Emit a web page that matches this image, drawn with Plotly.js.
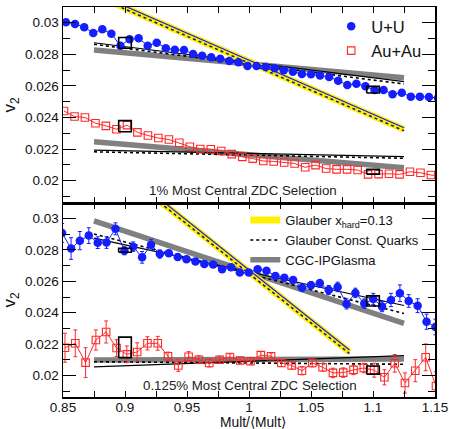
<!DOCTYPE html>
<html><head><meta charset="utf-8">
<script src="https://cdn.plot.ly/plotly-3.0.1.min.js"></script>
<style>html,body{margin:0;padding:0;background:#fff}#chart{width:449px;height:429px}</style>
</head><body><div id="chart"></div>
<script>
// ---------- data: 1% most central ZDC selection (top panel) ----------
const uuTopX = [0.8524, 0.8597, 0.8671, 0.8744, 0.8817, 0.8890, 0.8963, 0.9037, 0.9110, 0.9183, 0.9256, 0.9329, 0.9402, 0.9476, 0.9549, 0.9622, 0.9695, 0.9768, 0.9841, 0.9915, 0.9988, 1.0061, 1.0134, 1.0207, 1.0280, 1.0354, 1.0427, 1.0500, 1.0573, 1.0646, 1.0719, 1.0793, 1.0866, 1.0939, 1.1012, 1.1085, 1.1158, 1.1232, 1.1305, 1.1378, 1.1451, 1.1524];
const uuTopV2 = [0.03003, 0.02992, 0.02971, 0.02935, 0.02958, 0.02930, 0.02854, 0.02895, 0.02901, 0.02854, 0.02873, 0.02838, 0.02829, 0.02827, 0.02802, 0.02791, 0.02781, 0.02772, 0.02758, 0.02749, 0.02726, 0.02726, 0.02720, 0.02711, 0.02699, 0.02690, 0.02675, 0.02673, 0.02665, 0.02656, 0.02633, 0.02606, 0.02614, 0.02597, 0.02574, 0.02574, 0.02547, 0.02557, 0.02532, 0.02532, 0.02530, 0.02523];
const auTopX = [0.8508, 0.8593, 0.8677, 0.8762, 0.8846, 0.8931, 0.9016, 0.9100, 0.9185, 0.9269, 0.9354, 0.9438, 0.9523, 0.9607, 0.9692, 0.9776, 0.9861, 0.9946, 1.0030, 1.0115, 1.0199, 1.0284, 1.0368, 1.0453, 1.0537, 1.0622, 1.0706, 1.0791, 1.0876, 1.0960, 1.1045, 1.1129, 1.1214, 1.1298, 1.1383, 1.1467, 1.1552];
const auTopV2 = [0.02441, 0.02406, 0.02400, 0.02364, 0.02347, 0.02326, 0.02352, 0.02306, 0.02286, 0.02270, 0.02261, 0.02240, 0.02215, 0.02201, 0.02199, 0.02188, 0.02168, 0.02151, 0.02140, 0.02125, 0.02122, 0.02115, 0.02109, 0.02085, 0.02099, 0.02077, 0.02072, 0.02072, 0.02068, 0.02040, 0.02042, 0.02044, 0.02040, 0.02057, 0.02050, 0.02036, 0.02030];

// ---------- data: 0.125% most central ZDC selection (bottom panel) ----------
const uuBotX = [0.8493, 0.8565, 0.8636, 0.8708, 0.8780, 0.8851, 0.8923, 0.8995, 0.9066, 0.9138, 0.9210, 0.9281, 0.9353, 0.9425, 0.9496, 0.9568, 0.9640, 0.9711, 0.9783, 0.9855, 0.9926, 0.9998, 1.0070, 1.0141, 1.0213, 1.0285, 1.0356, 1.0428, 1.0500, 1.0571, 1.0643, 1.0715, 1.0787, 1.0858, 1.0930, 1.1002, 1.1073, 1.1145, 1.1217, 1.1288, 1.1360, 1.1432, 1.1503];
const uuBotV2 = [0.02907, 0.02808, 0.02858, 0.02890, 0.02845, 0.02846, 0.02933, 0.02794, 0.02820, 0.02752, 0.02832, 0.02773, 0.02778, 0.02754, 0.02740, 0.02726, 0.02710, 0.02707, 0.02676, 0.02689, 0.02655, 0.02655, 0.02676, 0.02667, 0.02634, 0.02623, 0.02608, 0.02559, 0.02575, 0.02587, 0.02545, 0.02564, 0.02456, 0.02526, 0.02458, 0.02488, 0.02439, 0.02481, 0.02524, 0.02475, 0.02445, 0.02343, 0.02310];
const uuBotErr = [0.0006, 0.00069, 0.00058, 0.0005, 0.00037, 0.00037, 0.00038, 0.00026, 0.0003, 0.00037, 0.00034, 0.00026, 0.0002, 0.0002, 0.00018, 0.00016, 0.00016, 0.00015, 0.00015, 0.00015, 0.00015, 0.00015, 0.00015, 0.00016, 0.00017, 0.00018, 0.0002, 0.00022, 0.00024, 0.00025, 0.00028, 0.0003, 0.00032, 0.0003, 0.0003, 0.00035, 0.00032, 0.00042, 0.00053, 0.0004, 0.00044, 0.00048, 0.0005];
const auBotX = [0.8516, 0.8599, 0.8682, 0.8765, 0.8848, 0.8932, 0.9015, 0.9098, 0.9181, 0.9264, 0.9347, 0.9430, 0.9513, 0.9596, 0.9679, 0.9763, 0.9846, 0.9929, 1.0012, 1.0095, 1.0178, 1.0261, 1.0344, 1.0427, 1.0510, 1.0594, 1.0677, 1.0760, 1.0843, 1.0926, 1.1009, 1.1092, 1.1175, 1.1258, 1.1341, 1.1425, 1.1508];
const auBotV2 = [0.02178, 0.02206, 0.02083, 0.02227, 0.02278, 0.02176, 0.02136, 0.02151, 0.02206, 0.02206, 0.02124, 0.02065, 0.02121, 0.02102, 0.02081, 0.02102, 0.02119, 0.02097, 0.02092, 0.02131, 0.02124, 0.02081, 0.02065, 0.02032, 0.02081, 0.02054, 0.02018, 0.02020, 0.02037, 0.02049, 0.02035, 0.01990, 0.02079, 0.01954, 0.02032, 0.02117, 0.01935];
const auBotErr = [0.00092, 0.00085, 0.00095, 0.00064, 0.0007, 0.00053, 0.00053, 0.00058, 0.00042, 0.00044, 0.00026, 0.00037, 0.00032, 0.00025, 0.00025, 0.00022, 0.0002, 0.0002, 0.0002, 0.00022, 0.0002, 0.00022, 0.00022, 0.00026, 0.00025, 0.00025, 0.0003, 0.0003, 0.0003, 0.0003, 0.00044, 0.00048, 0.00056, 0.00064, 0.0007, 0.00085, 0.0009];

// ---------- systematic boxes (center, half-height) ----------
const boxX = [0.9, 1.1];
const boxHalfW = 0.0051;
const uuTopBoxY = [0.02872, 0.02576], uuTopBoxH = [0.00034, 0.00021];
const auTopBoxY = [0.02345, 0.02057], auTopBoxH = [0.00035, 0.00015];
const uuBotBoxY = [0.02797, 0.02475], uuBotBoxH = [0.00013, 0.00032];
const auBotBoxY = [0.02180, 0.02036], auBotBoxH = [0.00065, 0.00026];

// ---------- model curves (end points) ----------
const modelX = [0.875, 1.125];
const hardBotX = [0.875, 1.081];
const hardTopBand = [0.03180, 0.02325], hardTopSolid = [0.03190, 0.02335], hardTopDot = [0.03171, 0.02316];
const cqTopUUSolid = [0.02873, 0.02627], cqTopUUDot = [0.02863, 0.02612];
const cgcTopUU = [0.02827, 0.02652];
const cqTopAuSolid = [0.02194, 0.02152], cqTopAuDot = [0.02183, 0.02142];
const cgcTopAu = [0.02247, 0.02082];
const hardBotBand = [0.03443, 0.02151], hardBotSolid = [0.03456, 0.02164], hardBotDot = [0.03433, 0.02141];
const cqBotUUSolid = [0.02874, 0.02446], cqBotUUDot = [0.02900, 0.02395];
const cgcBotUU = [0.02983, 0.02332];
const cqBotAuSolid = [0.02056, 0.02128], cqBotAuDot = [0.02089, 0.02073];
const cgcBotAu = [0.02100, 0.02106];

const xTicks = [0.85, 0.9, 0.95, 1, 1.05, 1.1, 1.15];
const yTicks = [0.02, 0.022, 0.024, 0.026, 0.028, 0.03];

const FONT = 'Liberation Sans, Arial, Helvetica, sans-serif';
const BLUE = 'rgb(20,30,255)', RED = 'rgb(255,40,40)';
const YELLOW = 'rgb(255,240,0)', GRAY = 'rgb(128,128,128)';

function line(x, y, xa, ya, color, width, dash, extra) {
  return Object.assign({x: x, y: y, xaxis: xa, yaxis: ya, type: 'scatter', mode: 'lines',
    line: {color: color, width: width, dash: dash || 'solid'}, showlegend: false, hoverinfo: 'skip'}, extra || {});
}
function boxes(cy, hh, xa, ya) {
  const bx = [], by = [];
  for (let i = 0; i < boxX.length; i++) {
    const x0 = boxX[i] - boxHalfW, x1 = boxX[i] + boxHalfW;
    const y0 = cy[i] - hh[i], y1 = cy[i] + hh[i];
    bx.push(x0, x1, x1, x0, x0, null);
    by.push(y0, y0, y1, y1, y0, null);
  }
  return line(bx, by, xa, ya, 'black', 1.6);
}

const traces = [];
// ---- top panel models
traces.push(line(modelX, cgcTopUU, 'x2', 'y2', GRAY, 5.5));
traces.push(line(modelX, cgcTopAu, 'x2', 'y2', GRAY, 5.5));
traces.push(line(modelX, cqTopUUSolid, 'x2', 'y2', 'black', 1.2));
traces.push(line(modelX, cqTopUUDot, 'x2', 'y2', 'black', 1.6, 'dot'));
traces.push(line(modelX, cqTopAuSolid, 'x2', 'y2', 'black', 1.2));
traces.push(line(modelX, cqTopAuDot, 'x2', 'y2', 'black', 1.6, 'dot'));
traces.push(line(modelX, hardTopBand, 'x2', 'y2', YELLOW, 7));
traces.push(line(modelX, hardTopSolid, 'x2', 'y2', BLUE, 1.2));
traces.push(line(modelX, hardTopDot, 'x2', 'y2', 'rgb(20,20,120)', 1.5, 'dot'));
// ---- bottom panel models (three of them also carry the model legend)
traces.push(line(modelX, cgcBotUU, 'x', 'y', GRAY, 5.5, 'solid',
  {name: 'CGC-IPGlasma', showlegend: true, legend: 'legend2', legendrank: 3}));
traces.push(line(modelX, cgcBotAu, 'x', 'y', GRAY, 5.5));
traces.push(line(modelX, cqBotUUSolid, 'x', 'y', 'black', 1.2));
traces.push(line(modelX, cqBotUUDot, 'x', 'y', 'black', 1.6, 'dot',
  {name: 'Glauber Const. Quarks', showlegend: true, legend: 'legend2', legendrank: 2}));
traces.push(line(modelX, cqBotAuSolid, 'x', 'y', 'black', 1.2));
traces.push(line(modelX, cqBotAuDot, 'x', 'y', 'black', 1.6, 'dot'));
traces.push(line(hardBotX, hardBotBand, 'x', 'y', YELLOW, 7, 'solid',
  {name: 'Glauber x<sub>hard</sub>=0.13', showlegend: true, legend: 'legend2', legendrank: 1}));
traces.push(line(hardBotX, hardBotSolid, 'x', 'y', BLUE, 1.2));
traces.push(line(hardBotX, hardBotDot, 'x', 'y', 'rgb(20,20,120)', 1.5, 'dot'));

// ---- data: connecting lines
traces.push(line(uuTopX, uuTopV2, 'x2', 'y2', BLUE, 1));
traces.push(line(auTopX, auTopV2, 'x2', 'y2', RED, 1));
traces.push(line(uuBotX, uuBotV2, 'x', 'y', BLUE, 1));
traces.push(line(auBotX, auBotV2, 'x', 'y', RED, 1));

// ---- data: markers
traces.push({x: uuTopX, y: uuTopV2, xaxis: 'x2', yaxis: 'y2', type: 'scatter', mode: 'markers', name: 'U+U',
  marker: {symbol: 'circle', size: 8.5, color: BLUE}, legend: 'legend', legendrank: 1});
traces.push({x: auTopX, y: auTopV2, xaxis: 'x2', yaxis: 'y2', type: 'scatter', mode: 'markers', name: 'Au+Au',
  marker: {symbol: 'square-open', size: 7.5, color: RED, line: {width: 1.1}}, legend: 'legend', legendrank: 2});
traces.push({x: uuBotX, y: uuBotV2, xaxis: 'x', yaxis: 'y', type: 'scatter', mode: 'markers', showlegend: false,
  error_y: {type: 'data', array: uuBotErr, color: BLUE, thickness: 1, width: 2},
  marker: {symbol: 'circle', size: 8.5, color: BLUE}});
traces.push({x: auBotX, y: auBotV2, xaxis: 'x', yaxis: 'y', type: 'scatter', mode: 'markers', showlegend: false,
  error_y: {type: 'data', array: auBotErr, color: RED, thickness: 1, width: 2},
  marker: {symbol: 'square-open', size: 7.5, color: RED, line: {width: 1.1}}});

// ---- systematic boxes
traces.push(boxes(uuTopBoxY, uuTopBoxH, 'x2', 'y2'));
traces.push(boxes(auTopBoxY, auTopBoxH, 'x2', 'y2'));
traces.push(boxes(uuBotBoxY, uuBotBoxH, 'x', 'y'));
traces.push(boxes(auBotBoxY, auBotBoxH, 'x', 'y'));

const axisCommon = {
  showgrid: false, zeroline: false, showline: true, linecolor: 'black', linewidth: 1.5,
  mirror: 'ticks', ticks: 'inside', tickcolor: 'black', tickwidth: 1
};
const topDom = 0.4974;
const layout = {
  width: 449, height: 429,
  margin: {l: 63, r: 14, t: 7, b: 32},
  paper_bgcolor: 'white', plot_bgcolor: 'white',
  font: {family: FONT, size: 13.5, color: '#111'},
  xaxis: Object.assign({}, axisCommon, {domain: [0, 1], anchor: 'y', range: [0.85, 1.15],
    tickvals: xTicks, ticklen: 6, ticklabelstandoff: -3,
    minor: {dtick: 0.025, tick0: 0, ticks: 'inside', ticklen: 6, tickcolor: 'black', tickwidth: 1, showgrid: false}}),
  xaxis2: Object.assign({}, axisCommon, {domain: [0, 1], anchor: 'y2', matches: 'x', range: [0.85, 1.15],
    tickvals: xTicks, ticklen: 6, showticklabels: false,
    minor: {dtick: 0.025, tick0: 0, ticks: 'inside', ticklen: 6, tickcolor: 'black', tickwidth: 1, showgrid: false}}),
  yaxis: Object.assign({}, axisCommon, {domain: [0, topDom], anchor: 'x', range: [0.01865, 0.03097],
    tickvals: yTicks, ticklen: 13,
    minor: {dtick: 0.001, tick0: 0, ticks: 'inside', ticklen: 7, tickcolor: 'black', tickwidth: 1, showgrid: false},
    title: {text: 'v<sub>2</sub>', font: {size: 17}, standoff: 6}}),
  yaxis2: Object.assign({}, axisCommon, {domain: [topDom, 1], anchor: 'x2', range: [0.01859, 0.03099],
    tickvals: yTicks, ticklen: 13,
    minor: {dtick: 0.001, tick0: 0, ticks: 'inside', ticklen: 7, tickcolor: 'black', tickwidth: 1, showgrid: false},
    title: {text: 'v<sub>2</sub>', font: {size: 17}, standoff: 6}}),
  legend: {x: 0.721, y: 0.995, xanchor: 'left', yanchor: 'top', bgcolor: 'rgba(0,0,0,0)',
    font: {size: 16.5, color: '#111'}, itemwidth: 30, tracegroupgap: 0, traceorder: 'normal'},
  legend2: {x: 0.49, y: 0.492, xanchor: 'left', yanchor: 'top', bgcolor: 'rgba(0,0,0,0)',
    font: {size: 13, color: '#111'}, itemwidth: 30, tracegroupgap: 0, traceorder: 'normal'},
  annotations: [
    {text: '1% Most Central ZDC Selection', xref: 'x2', yref: 'y2', x: 0.995, y: 0.01941,
      showarrow: false, font: {size: 13.3, color: '#222'}},
    {text: '0.125% Most Central ZDC Selection', xref: 'x', yref: 'y', x: 1.0008, y: 0.01941,
      showarrow: false, font: {size: 13.3, color: '#222'}},
    {text: 'Mult/⟨Mult⟩', xref: 'paper', yref: 'paper', x: 0.51, y: 0, xanchor: 'center', yanchor: 'top',
      yshift: -16.7, showarrow: false, borderpad: 0, font: {size: 13.8, color: '#111'}}
  ],
  showlegend: true
};

Plotly.newPlot('chart', traces, layout, {staticPlot: true, displayModeBar: false});
</script></body></html>
